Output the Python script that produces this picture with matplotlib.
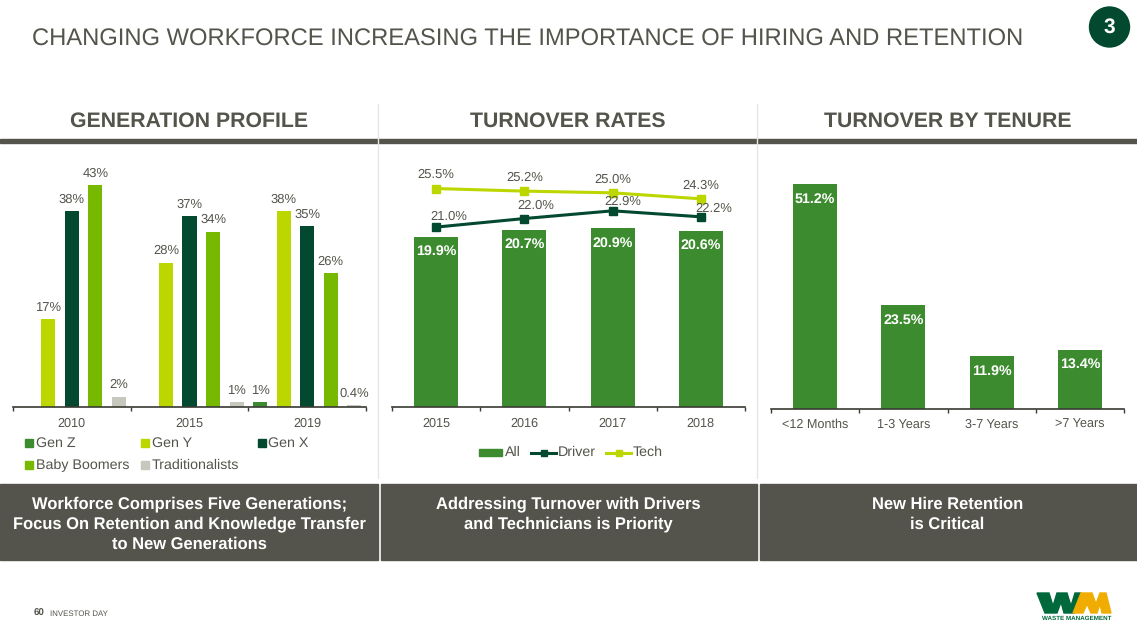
import matplotlib
matplotlib.use('Agg')
import matplotlib.pyplot as plt
from matplotlib.patches import Rectangle, Circle, Polygon
from matplotlib.lines import Line2D

W, H = 1137, 635

years_gen = ['2010', '2015', '2019']
gen_names = ['Gen Z', 'Gen Y', 'Gen X', 'Baby Boomers', 'Traditionalists']
gen_z = [0, 0, 1]
gen_y = [17, 28, 38]
gen_x = [38, 37, 35]
boomers = [43, 34, 26]
tradition = [2, 1, 0.4]
gen_labels_z = ['', '', '1%']
gen_labels_y = ['17%', '28%', '38%']
gen_labels_x = ['38%', '37%', '35%']
gen_labels_b = ['43%', '34%', '26%']
gen_labels_t = ['2%', '1%', '0.4%']

years_turn = ['2015', '2016', '2017', '2018']
turn_all = [19.9, 20.7, 20.9, 20.6]
turn_driver = [21.0, 22.0, 22.9, 22.2]
turn_tech = [25.5, 25.2, 25.0, 24.3]

tenure = ['<12 Months', '1-3 Years', '3-7 Years', '>7 Years']
tenure_vals = [51.2, 23.5, 11.9, 13.4]

GREEN = '#3d8b2f'
LIME = '#bcd600'
DARK = '#02492f'
MID = '#76b900'
GREY = '#c6c7bd'
TEXT = '#54544c'
BAND = '#54544c'

plt.rcParams['font.family'] = ['Liberation Sans', 'DejaVu Sans']
plt.rcParams['text.hinting'] = 'no_hinting'

fig = plt.figure(figsize=(W / 100, H / 100), dpi=100)


def px_axes(left, right, top, bottom):
    a = fig.add_axes([left / W, 1 - bottom / H, (right - left) / W, (bottom - top) / H])
    a.patch.set_alpha(0)
    for s in ['top', 'left', 'right']:
        a.spines[s].set_visible(False)
    a.spines['bottom'].set_color('#3a3a34')
    a.spines['bottom'].set_linewidth(1.2)
    a.yaxis.set_visible(False)
    a.tick_params(axis='x', which='major', length=0, labelsize=9.1, labelcolor=TEXT, pad=14)
    a.tick_params(axis='x', which='minor', length=3, width=1, color='#3a3a34', direction='out')
    return a


def set_cats(a, names):
    a.set_xticks(range(len(names)))
    a.set_xticklabels(names, va='baseline')
    a.set_xticks([i - 0.5 for i in range(len(names) + 1)], minor=True)


# page furniture, pixel coords
bg = fig.add_axes([0, 0, 1, 1])
bg.set_xlim(0, W)
bg.set_ylim(H, 0)
bg.axis('off')

bg.text(32, 40, 'CHANGING WORKFORCE INCREASING THE IMPORTANCE OF HIRING AND RETENTION',
        fontsize=17.1, color=TEXT, va='center', ha='left')
bg.add_patch(Circle((1109.5, 27), 20, color=DARK))
bg.text(1109.5, 27.5, '3', fontsize=15, color='white', weight='bold', ha='center', va='center')

bg.add_patch(Rectangle((0, 139), W, 4, color=BAND))
bg.add_line(Line2D([378, 378], [104, 478], color='#e6e6e2', lw=1))
bg.add_line(Line2D([757, 757], [104, 478], color='#e6e6e2', lw=1))
heads = [('GENERATION PROFILE', 189.5), ('TURNOVER RATES', 568), ('TURNOVER BY TENURE', 947.5)]
for t, x in heads:
    bg.text(x, 121.5, t, fontsize=15.3, weight='bold', color=TEXT, ha='center', va='center')

bands = [(0, 377.5, ['Workforce Comprises Five Generations;', 'Focus On Retention and Knowledge Transfer', 'to New Generations'], 189.5),
         (380.5, 757, ['Addressing Turnover with Drivers', 'and Technicians is Priority'], 568),
         (759.5, 1137, ['New Hire Retention', 'is Critical'], 947.5)]
for x0, x1, lines, xc in bands:
    bg.add_patch(Rectangle((x0, 484), x1 - x0, 76, color=BAND))
    for i, t in enumerate(lines):
        bg.text(xc, 504 + i * 20, t, fontsize=11.9, weight='bold', color='white', ha='center', va='center')

bg.text(34, 613.5, '60', fontsize=7, weight='bold', color=TEXT, va='center')
bg.text(50, 613.5, 'INVESTOR DAY', fontsize=5.7, color=TEXT, va='center')

# logo
bg.add_patch(Polygon([(1037, 593), (1049, 593), (1053, 606), (1057, 593), (1067, 593), (1071, 606),
                      (1075, 593), (1081, 593), (1074, 613), (1064, 613), (1061, 602), (1057, 613),
                      (1045, 613)], color='#00693c'))
bg.add_patch(Polygon([(1073, 613), (1081, 593), (1092, 593), (1096, 604), (1100, 593), (1106, 593),
                      (1111, 613), (1102, 613), (1100, 604), (1097, 613), (1091, 613), (1087, 604),
                      (1083, 613)], color='#f0ac00'))
bg.text(1077, 618.3, 'WASTE MANAGEMENT', fontsize=4.5, weight='bold', color='#00693c', ha='center', va='center')

# generation profile
ax1 = px_axes(13, 366, 149, 407)
ax1.set_xlim(-0.5, 2.5)
ax1.set_ylim(0, 50)
series = [gen_z, gen_y, gen_x, boomers, tradition]
labels = [gen_labels_z, gen_labels_y, gen_labels_x, gen_labels_b, gen_labels_t]
colors = [GREEN, LIME, DARK, MID, GREY]
slot = 0.2
for j, (vals, lab, c) in enumerate(zip(series, labels, colors)):
    xs = [i + (j - 2) * slot for i in range(3)]
    ax1.bar(xs, vals, width=slot * 0.6, color=c, linewidth=0)
    for x, v, t in zip(xs, vals, lab):
        ax1.annotate(t, (x, v), xytext=(0, 4), textcoords='offset points', ha='center', va='bottom',
                     fontsize=9.4, color=TEXT)
set_cats(ax1, years_gen)

# manual legend, generations
leg_x = [25, 141, 258, 25, 141]
leg_y = [443, 443, 443, 465, 465]
for n, c, x, y in zip(gen_names, colors, leg_x, leg_y):
    bg.add_patch(Rectangle((x, y - 4), 8, 8, color=c))
    bg.text(x + 10.5, y, n, fontsize=10.3, color=TEXT, va='center')

# turnover rates
ax2 = px_axes(392, 745, 150, 407)
ax2.set_xlim(-0.5, 3.5)
ax2.set_ylim(0, 30)
ax2.bar(range(4), turn_all, width=0.5, color=GREEN, linewidth=0)
ax2.plot(range(4), turn_driver, color=DARK, lw=2.2, marker='s', ms=5.5)
ax2.plot(range(4), turn_tech, color=LIME, lw=2.2, marker='s', ms=5.5)
for i, v in enumerate(turn_all):
    ax2.annotate('%.1f%%' % v, (i, v), xytext=(0, -6), textcoords='offset points', ha='center', va='top',
                 fontsize=10.3, weight='bold', color='white')
driver_off = [(9, 3), (8.5, 5), (7, 2.5), (9, 1.5)]
tech_off = [(0, 5.5), (0, 5.5), (0, 5.5), (0, 5)]
for i, v in enumerate(turn_driver):
    ax2.annotate('%.1f%%' % v, (i, v), xytext=driver_off[i], textcoords='offset points', ha='center',
                 va='bottom', fontsize=9.4, color=TEXT)
for i, v in enumerate(turn_tech):
    ax2.annotate('%.1f%%' % v, (i, v), xytext=tech_off[i], textcoords='offset points', ha='center',
                 va='bottom', fontsize=9.4, color=TEXT)
set_cats(ax2, years_turn)

bg.add_patch(Rectangle((479, 449), 23, 7, color=GREEN))
bg.text(504.5, 452.5, 'All', fontsize=10.3, color=TEXT, va='center')
bg.add_line(Line2D([531, 556], [452.5, 452.5], color=DARK, lw=2.2))
bg.add_line(Line2D([543.5], [452.5], color=DARK, marker='s', ms=5))
bg.text(557.5, 452.5, 'Driver', fontsize=10.3, color=TEXT, va='center')
bg.add_line(Line2D([606, 631], [452.5, 452.5], color=LIME, lw=2.2))
bg.add_line(Line2D([618.5], [452.5], color=LIME, marker='s', ms=5))
bg.text(632.5, 452.5, 'Tech', fontsize=10.3, color=TEXT, va='center')

# turnover by tenure
ax3 = px_axes(771, 1124, 147.5, 408.5)
ax3.set_xlim(-0.5, 3.5)
ax3.set_ylim(0, 59.5)
ax3.bar(range(4), tenure_vals, width=0.5, color=GREEN, linewidth=0)
for i, v in enumerate(tenure_vals):
    ax3.annotate('%.1f%%' % v, (i, v), xytext=(0, -6), textcoords='offset points', ha='center', va='top',
                 fontsize=10.3, weight='bold', color='white')
set_cats(ax3, tenure)

fig.savefig('out.png', dpi=100)
